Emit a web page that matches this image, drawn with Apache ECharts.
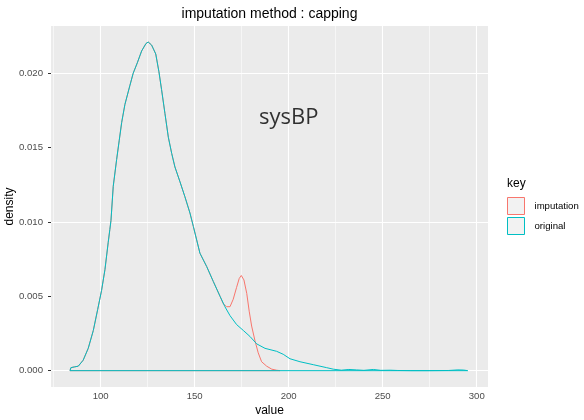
<!DOCTYPE html>
<html>
<head>
<meta charset="utf-8">
<script src="https://cdn.jsdelivr.net/npm/echarts@6/dist/echarts.min.js"></script>
<style>
  html, body { margin: 0; padding: 0; background: #ffffff; }
  #chart { width: 584px; height: 420px; }
</style>
</head>
<body>
<div id="chart"></div>
<script>
// Kernel density estimate of systolic blood pressure, original values
const originalValue = [
  83.7, 84.2, 86.0, 88.1, 90.7, 93.4, 96.1, 98.4, 100.5, 102.3, 104.0, 104.9,
  105.5, 106.7, 108.5, 109.9, 111.2, 112.9, 115.6, 117.3, 119.5, 121.8, 124.1,
  125.3, 127.1, 129.3, 131.0, 132.4, 134.2, 136.0, 137.8, 139.5, 142.2, 144.8,
  147.5, 149.3, 152.8, 156.4, 159.9, 163.5, 166.1, 168.8, 172.3, 175.9, 179.4,
  183.0, 187.4, 193.6, 197.1, 200.7, 206.0, 213.1, 220.2, 223.7, 228.0, 232.0,
  236.0, 240.0, 245.0, 249.0, 254.0, 258.0, 265.0, 275.0, 285.0, 290.0, 293.0,
  295.2
];
const originalDensity = [
  0.0, 0.0002, 0.00025, 0.0003, 0.0007, 0.0015, 0.0027, 0.0041, 0.0054, 0.0068,
  0.0086, 0.0095, 0.0101, 0.0124, 0.0142, 0.0155, 0.0167, 0.0179, 0.0192,
  0.0200, 0.0207, 0.0215, 0.0220, 0.0221, 0.0219, 0.0213, 0.0201, 0.0189,
  0.0173, 0.0157, 0.0146, 0.0137, 0.0127, 0.0117, 0.0106, 0.0097, 0.0079,
  0.0070, 0.0060, 0.0050, 0.0043, 0.0037, 0.0031, 0.0027, 0.0023, 0.0018,
  0.0015, 0.0013, 0.0011, 0.0008, 0.0006, 0.0004, 0.0002, 0.0001, 0.00003,
  0.00008, 0.00005, 0.00002, 0.00008, 0.00002, 0.00003, 0.00001, 0.0, 0.0,
  0.00001, 0.00005, 0.00004, 0.0
];

// Same variable after capping the upper tail
const imputationValue = [
  83.7, 84.2, 86.0, 88.1, 90.7, 93.4, 96.1, 98.4, 100.5, 102.3, 104.0, 104.9,
  105.5, 106.7, 108.5, 109.9, 111.2, 112.9, 115.6, 117.3, 119.5, 121.8, 124.1,
  125.3, 127.1, 129.3, 131.0, 132.4, 134.2, 136.0, 137.8, 139.5, 142.2, 144.8,
  147.5, 149.3, 152.8, 156.4, 159.9, 163.5, 165.2, 167.0, 168.8, 170.5, 172.3,
  173.7, 174.8, 176.2, 177.7, 179.0, 180.3, 182.1, 183.8, 185.6, 188.3, 191.0,
  193.5, 195.4
];
const imputationDensity = [
  0.0, 0.0002, 0.00025, 0.0003, 0.0007, 0.0015, 0.0027, 0.0041, 0.0054, 0.0068,
  0.0086, 0.0095, 0.0101, 0.0124, 0.0142, 0.0155, 0.0167, 0.0179, 0.0192,
  0.0200, 0.0207, 0.0215, 0.0220, 0.0221, 0.0219, 0.0213, 0.0201, 0.0189,
  0.0173, 0.0157, 0.0146, 0.0137, 0.0127, 0.0117, 0.0106, 0.0097, 0.0079,
  0.0070, 0.0060, 0.0050, 0.0045, 0.0043, 0.0043, 0.0048, 0.0056, 0.0062,
  0.0064, 0.0061, 0.0052, 0.0040, 0.0030, 0.0020, 0.0012, 0.0006, 0.0003,
  0.0001, 0.00003, 0.0
];

const xTicks = [100, 150, 200, 250, 300];
const xMinorTicks = [75, 125, 175, 225, 275];
const yTicks = [0, 0.005, 0.010, 0.015, 0.020];
const yMinorTicks = [0.0025, 0.0075, 0.0125, 0.0175, 0.0225];

const seriesNames = ['imputation', 'original'];
const seriesColors = ['#F8766D', '#00BFC4'];

const annotationText = 'sysBP';
const annotationX = 200;
const annotationY = 0.017;

const FONT = '"Liberation Sans", Arial, sans-serif';

// closed outline: curve, then back along the baseline to the start
function outline(xs, ys) {
  const pts = xs.map((x, i) => [x, ys[i]]);
  pts.push([xs[0], 0]);
  return pts;
}

const gridLines = []
  .concat(xTicks.map(v => ({ xAxis: v, lineStyle: { width: 1.1 } })))
  .concat(xMinorTicks.map(v => ({ xAxis: v, lineStyle: { width: 0.55 } })))
  .concat(yTicks.map(v => ({ yAxis: v, lineStyle: { width: 1.1 } })))
  .concat(yMinorTicks.map(v => ({ yAxis: v, lineStyle: { width: 0.55 } })));

const chart = echarts.init(document.getElementById('chart'), null, { renderer: 'canvas' });

chart.setOption({
  animation: false,
  backgroundColor: '#ffffff',
  textStyle: { fontFamily: FONT },
  title: [
    {
      text: 'imputation method : capping',
      left: 269.5, top: 7, padding: 0, textAlign: 'center',
      textStyle: { fontFamily: FONT, fontSize: 14, fontWeight: 'normal', color: '#000000' }
    },
    {
      text: 'key',
      left: 507, top: 178, padding: 0,
      textStyle: { fontFamily: FONT, fontSize: 12, fontWeight: 'normal', color: '#000000' }
    }
  ],
  legend: {
    orient: 'vertical',
    left: 507, top: 197, padding: 0,
    itemWidth: 17, itemHeight: 17, itemGap: 2,
    selectedMode: false,
    textStyle: { fontFamily: FONT, fontSize: 9.6, color: '#000000', padding: [0, 0, 0, 5] },
    data: seriesNames.map((n, i) => ({
      name: n, icon: 'rect',
      itemStyle: { color: '#F2F2F2', borderColor: seriesColors[i], borderWidth: 1 }
    }))
  },
  grid: {
    left: 51, right: 96, top: 26, bottom: 33,
    show: true, backgroundColor: '#EBEBEB', borderWidth: 0,
    containLabel: false, outerBoundsMode: 'none'
  },
  xAxis: {
    type: 'value', min: 73.6, max: 306,
    name: 'value', nameLocation: 'middle', nameGap: 18, nameMoveOverlap: false,
    nameTextStyle: { fontFamily: FONT, fontSize: 12, color: '#000000' },
    axisLine: { show: false },
    axisTick: { show: true, length: 3, customValues: xTicks, lineStyle: { color: '#333333', width: 1 } },
    axisLabel: { customValues: xTicks, margin: 4, fontFamily: FONT, fontSize: 9.6, color: '#4D4D4D' },
    splitLine: { show: false }
  },
  yAxis: {
    type: 'value', min: -0.0011, max: 0.02318,
    name: 'density', nameLocation: 'middle', nameGap: 35, nameRotate: 90, nameMoveOverlap: false,
    nameTextStyle: { fontFamily: FONT, fontSize: 12, color: '#000000' },
    axisLine: { show: false },
    axisTick: { show: true, length: 3, customValues: yTicks, lineStyle: { color: '#333333', width: 1 } },
    axisLabel: {
      customValues: yTicks, margin: 8, fontFamily: FONT, fontSize: 9.6, color: '#4D4D4D',
      formatter: v => v.toFixed(3)
    },
    splitLine: { show: false }
  },
  series: [
    {
      name: 'grid', type: 'line', data: [], z: 1, silent: true,
      markLine: {
        z: 1, silent: true, symbol: ['none', 'none'], label: { show: false },
        lineStyle: { color: '#FFFFFF', type: 'solid' },
        emphasis: { disabled: true },
        data: gridLines
      }
    },
    {
      name: seriesNames[0], type: 'line', z: 6,
      data: outline(imputationValue, imputationDensity),
      showSymbol: false, symbol: 'none',
      lineStyle: { color: seriesColors[0], width: 1 },
      itemStyle: { color: seriesColors[0] }
    },
    {
      name: seriesNames[1], type: 'line', z: 7,
      data: outline(originalValue, originalDensity),
      showSymbol: false, symbol: 'none',
      lineStyle: { color: seriesColors[1], width: 1 },
      itemStyle: { color: seriesColors[1] }
    },
    {
      name: 'label', type: 'scatter', z: 8, silent: true,
      data: [[annotationX, annotationY]],
      symbolSize: 1, itemStyle: { color: 'rgba(0,0,0,0)' },
      label: {
        show: true, position: 'inside', formatter: annotationText,
        fontFamily: '"Open Sans", "Noto Sans", sans-serif', fontSize: 22, color: '#000000'
      }
    }
  ]
});
</script>
</body>
</html>
